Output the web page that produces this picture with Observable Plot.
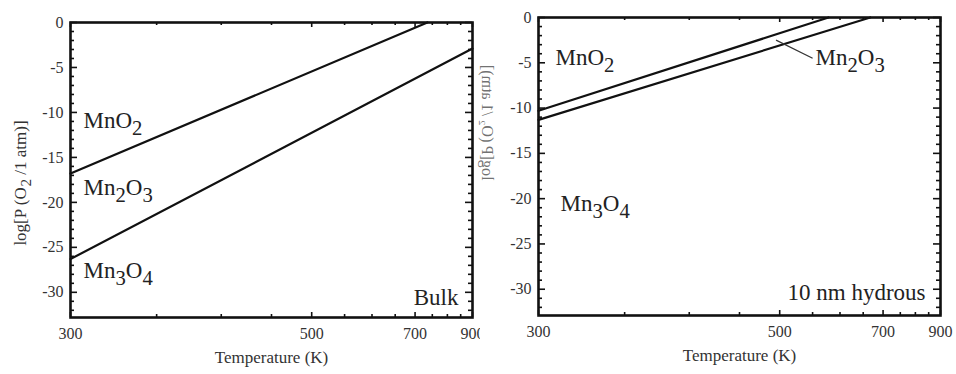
<!DOCTYPE html>
<html><head><meta charset="utf-8">
<script src="https://cdn.jsdelivr.net/npm/d3@7"></script>
<script src="https://cdn.jsdelivr.net/npm/@observablehq/plot@0.6"></script>
<style>
body{margin:0;background:#fff;}
#wrap{display:flex;width:956px;height:374px;overflow:hidden;}
svg{overflow:visible;display:block;flex:none;}
</style></head><body><div id="wrap"></div>
<script>
// ---- axis ticks ----
const xMajor = [300, 500, 700, 900];
const xMinor = [350, 400, 450, 550, 600, 650, 750, 800, 850];
const yMajor = [0, -5, -10, -15, -20, -25, -30];
const yMinor = d3.range(-1, -33, -1).filter(v => v % 5 !== 0);

// ---- texts ----
const xLabel = "Temperature (K)";
const yLabel = "log[P (O_2 /1 atm)]";

// ---- Bulk panel: phase boundaries (T in K, log P) ----
const bulkUpperT = [300, 735];
const bulkUpperLogP = [-16.8, 0];
const bulkLowerT = [300, 900];
const bulkLowerLogP = [-26.3, -2.9];
const bulkPhases = ["MnO_2", "Mn_2O_3", "Mn_3O_4"];
const bulkPhaseLogP = [-10.9, -18.4, -27.6];
const bulkTitle = "Bulk";
const bulkTitleLogP = -30.6;

// ---- 10 nm hydrous panel ----
const hydUpperT = [300, 578];
const hydUpperLogP = [-10.3, 0];
const hydLowerT = [300, 667];
const hydLowerLogP = [-11.3, 0];
const hydTopLabel = "MnO_2", hydTopLogP = -4.4;
const hydBottomLabel = "Mn_3O_4", hydBottomLogP = -20.5;
const hydMidLabel = "Mn_2O_3";
const hydMidT = 555, hydMidLogP = -4.4;
const hydLeaderT = [495, 550];
const hydLeaderLogP = [-2.5, -4.5];
const hydTitle = "10 nm hydrous";
const hydTitleLogP = -30.4;

const fontName = "'Liberation Serif'";
const font = "'Liberation Serif', 'Times New Roman', serif";
const subDigits = "₀₁₂₃₄₅₆₇₈₉";
const uni = s => s.replace(/_(\d)/g, (m, d) => subDigits[+d]);

const ctx = document.createElement("canvas").getContext("2d");
function measure(str, size) { ctx.font = size + "px " + fontName; return ctx.measureText(str).width; }

function pts(T, P) { return T.map((t, i) => ({T: t, P: P[i]})); }

function axes(plotW, plotH){
  const tick = {stroke: "#111", strokeWidth: 1.6};
  return [
    Plot.axisX(xMajor, {anchor: "bottom", tickSize: 0, tickPadding: 10, label: null, fontSize: 16, fill: "#333", tickFormat: d => d}),
    Plot.axisY(yMajor, {anchor: "left", tickSize: 0, tickPadding: 7, label: null, fontSize: 16, fill: "#333", tickFormat: d => d}),
    Plot.ruleX(xMajor, {...tick, insetTop: plotH - 5}),
    Plot.ruleX(xMinor, {...tick, insetTop: plotH - 3}),
    Plot.ruleY(yMajor, {...tick, insetRight: plotW - 7}),
    Plot.ruleY(yMinor, {...tick, insetRight: plotW - 4}),
    Plot.ruleX(xMajor, {...tick, insetBottom: plotH - 5}),
    Plot.ruleX(xMinor, {...tick, insetBottom: plotH - 3}),
    Plot.ruleY(yMajor, {...tick, insetLeft: plotW - 7}),
    Plot.ruleY(yMinor, {...tick, insetLeft: plotW - 4}),
  ];
}

// label with subscripts: one text mark per run, placed with measured offsets
function richMarks(rich, label, T, P, dx, size, fill) {
  if (!rich) return [Plot.text([{T, P}], {x: "T", y: "P", text: () => uni(label), textAnchor: "start", lineAnchor: "middle", dx, fontSize: size, fill})];
  const parts = label.split(/_(\d)/);
  const sub = size * 0.9, shift = size * 0.34;
  let off = 0; const marks = [];
  parts.forEach((p, i) => {
    const isSub = i % 2 === 1;
    const fs = isSub ? sub : size;
    if (p !== "") marks.push(Plot.text([{T, P}], {x: "T", y: "P", text: () => p, textAnchor: "start", lineAnchor: "middle", dx: dx + off, dy: isSub ? shift : 0, fontSize: fs, fill}));
    off += measure(p, fs);
  });
  return marks;
}

function richYLabel(rich, label, dx, dy, size, fill) {
  if (!rich) return [Plot.text([uni(label)], {text: d => d, frameAnchor: "left", rotate: -90, dx, dy, fontSize: size, fill})];
  const parts = label.split(/_(\d)/);
  const sub = size * 0.9, shift = size * 0.34;
  const widths = parts.map((p, i) => measure(p, i % 2 ? sub : size));
  const L = d3.sum(widths);
  let off = 0; const marks = [];
  parts.forEach((p, i) => {
    const isSub = i % 2 === 1;
    if (p !== "") marks.push(Plot.text([p], {text: d => d, frameAnchor: "left", rotate: -90, textAnchor: "start", lineAnchor: "middle", dx: dx + (isSub ? shift : 0), dy: dy + L / 2 - off, fontSize: isSub ? sub : size, fill}));
    off += widths[i];
  });
  return marks;
}

function panel(cfg){
  const plotW = cfg.width - cfg.ml - cfg.mr;
  const plotH = 374 - cfg.mt - cfg.mb;
  const yl = cfg.mirror
    ? [Plot.text([uni(yLabel)], {text: d => d, frameAnchor: "left", rotate: -90, dx: cfg.ylDx, dy: cfg.ylDy, fontSize: 16, fill: "#444", className: "ylab-mirror"})]
    : richYLabel(cfg.rich, yLabel, cfg.ylDx, cfg.ylDy, 17, "#333");
  const svg = Plot.plot({
    width: cfg.width, height: 374,
    marginLeft: cfg.ml, marginRight: cfg.mr, marginTop: cfg.mt, marginBottom: cfg.mb,
    style: {fontFamily: font, fontSize: "16px", background: "#fff", color: "#111"},
    x: {type: "pow", exponent: -1, domain: [300, 900]},
    y: {domain: [cfg.ymin, 0]},
    marks: [
      ...axes(plotW, plotH),
      Plot.line(pts(cfg.upT, cfg.upP), {x: "T", y: "P", stroke: "#111", strokeWidth: 2.2}),
      Plot.line(pts(cfg.loT, cfg.loP), {x: "T", y: "P", stroke: "#111", strokeWidth: 2.2}),
      ...cfg.extra,
      Plot.frame({stroke: "#111", strokeWidth: 2.6}),
      Plot.text([xLabel], {text: d => d, frameAnchor: "bottom", dy: 45, fontSize: 17, fill: "#333"}),
      ...yl,
    ]
  });
  if (cfg.mirror) {
    svg.querySelectorAll(".ylab-mirror text").forEach(t => {
      const tr = t.getAttribute("transform") || "";
      t.setAttribute("transform", tr.replace("rotate", "scale(-1,1) rotate"));
      t.setAttribute("fill-opacity", "0.75");
    });
  }
  return svg;
}

const cornerStyle = {text: d => d.label, fontSize: 23, fill: "#222", lineAnchor: "middle", x: "T", y: "P", textAnchor: "end"};

function build(rich) {
  const left = panel({
    rich, width: 480, ml: 70, mr: 8, mt: 22, mb: 57, ymin: -32.8,
    upT: bulkUpperT, upP: bulkUpperLogP, loT: bulkLowerT, loP: bulkLowerLogP,
    ylDx: -50, ylDy: 13, mirror: false,
    extra: [
      ...bulkPhases.flatMap((l, i) => richMarks(rich, l, 300, bulkPhaseLogP[i], 13, 23, "#222")),
      Plot.text([{label: bulkTitle, T: 900, P: bulkTitleLogP}], {...cornerStyle, dx: -14}),
    ]
  });
  const right = panel({
    rich, width: 476, ml: 58, mr: 16, mt: 17, mb: 59, ymin: -32.9,
    upT: hydUpperT, upP: hydUpperLogP, loT: hydLowerT, loP: hydLowerLogP,
    ylDx: -51, ylDy: 14, mirror: true,
    extra: [
      Plot.link([{T1: hydLeaderT[0], P1: hydLeaderLogP[0], T2: hydLeaderT[1], P2: hydLeaderLogP[1]}], {x1: "T1", y1: "P1", x2: "T2", y2: "P2", stroke: "#333", strokeWidth: 1.2}),
      ...richMarks(rich, hydTopLabel, 300, hydTopLogP, 17, 23, "#222"),
      ...richMarks(rich, hydBottomLabel, 300, hydBottomLogP, 22, 23, "#222"),
      ...richMarks(rich, hydMidLabel, hydMidT, hydMidLogP, 0, 23, "#222"),
      Plot.text([{label: hydTitle, T: 900, P: hydTitleLogP}], {...cornerStyle, dx: -15}),
    ]
  });
  return [left, right];
}

let panels;
try { panels = build(true); } catch (e) { panels = build(false); }
document.getElementById("wrap").append(...panels);
</script>
</body></html>
